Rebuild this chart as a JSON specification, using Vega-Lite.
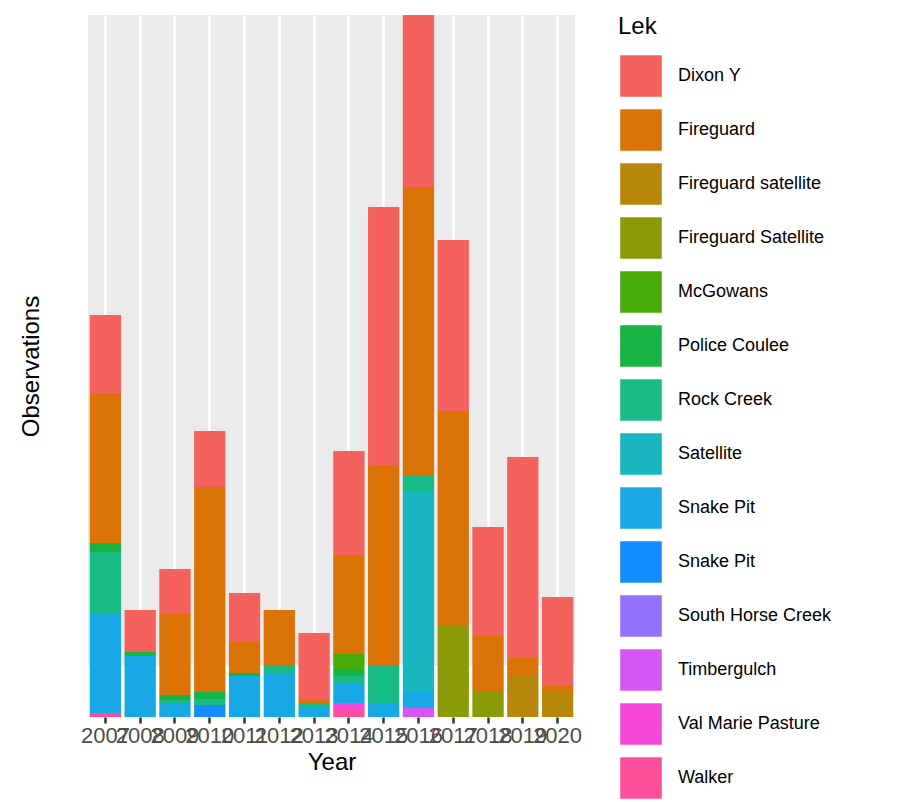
{
  "$schema": "https://vega.github.io/schema/vega-lite/v6.json",
  "width": 487,
  "height": 702,
  "autosize": {"type": "none"},
  "padding": {"left": 88, "top": 15, "right": 333, "bottom": 85},
  "data": {
    "values": [
      {"Year": "2007", "Lek": "Walker", "n": 4},
      {"Year": "2007", "Lek": "Snake Pit", "n": 99},
      {"Year": "2007", "Lek": "Rock Creek", "n": 62},
      {"Year": "2007", "Lek": "Police Coulee", "n": 9},
      {"Year": "2007", "Lek": "Fireguard", "n": 150},
      {"Year": "2007", "Lek": "Dixon Y", "n": 78},
      {"Year": "2008", "Lek": "Snake Pit", "n": 61},
      {"Year": "2008", "Lek": "Police Coulee", "n": 4},
      {"Year": "2008", "Lek": "Dixon Y", "n": 42},
      {"Year": "2009", "Lek": "Snake Pit", "n": 14},
      {"Year": "2009", "Lek": "Rock Creek", "n": 3},
      {"Year": "2009", "Lek": "Police Coulee", "n": 5},
      {"Year": "2009", "Lek": "Fireguard", "n": 81},
      {"Year": "2009", "Lek": "Dixon Y", "n": 45},
      {"Year": "2010", "Lek": "Snake Pit ", "n": 12},
      {"Year": "2010", "Lek": "Rock Creek", "n": 6},
      {"Year": "2010", "Lek": "Police Coulee", "n": 7},
      {"Year": "2010", "Lek": "Fireguard", "n": 205},
      {"Year": "2010", "Lek": "Dixon Y", "n": 56},
      {"Year": "2011", "Lek": "Snake Pit", "n": 41},
      {"Year": "2011", "Lek": "Police Coulee", "n": 3},
      {"Year": "2011", "Lek": "Fireguard", "n": 31},
      {"Year": "2011", "Lek": "Dixon Y", "n": 49},
      {"Year": "2012", "Lek": "Snake Pit", "n": 44},
      {"Year": "2012", "Lek": "Rock Creek", "n": 8},
      {"Year": "2012", "Lek": "Fireguard", "n": 55},
      {"Year": "2013", "Lek": "Snake Pit", "n": 10},
      {"Year": "2013", "Lek": "Rock Creek", "n": 4},
      {"Year": "2013", "Lek": "Fireguard", "n": 3},
      {"Year": "2013", "Lek": "Dixon Y", "n": 67},
      {"Year": "2014", "Lek": "Walker", "n": 7},
      {"Year": "2014", "Lek": "Val Marie Pasture", "n": 7},
      {"Year": "2014", "Lek": "Snake Pit", "n": 19},
      {"Year": "2014", "Lek": "Rock Creek", "n": 8},
      {"Year": "2014", "Lek": "Police Coulee", "n": 7},
      {"Year": "2014", "Lek": "McGowans", "n": 15},
      {"Year": "2014", "Lek": "Fireguard", "n": 99},
      {"Year": "2014", "Lek": "Dixon Y", "n": 104},
      {"Year": "2015", "Lek": "Snake Pit", "n": 14},
      {"Year": "2015", "Lek": "Rock Creek", "n": 38},
      {"Year": "2015", "Lek": "Fireguard", "n": 200},
      {"Year": "2015", "Lek": "Dixon Y", "n": 258},
      {"Year": "2016", "Lek": "Timbergulch", "n": 9},
      {"Year": "2016", "Lek": "Snake Pit", "n": 16},
      {"Year": "2016", "Lek": "Satellite", "n": 201},
      {"Year": "2016", "Lek": "Rock Creek", "n": 15},
      {"Year": "2016", "Lek": "Fireguard", "n": 289},
      {"Year": "2016", "Lek": "Dixon Y", "n": 172},
      {"Year": "2017", "Lek": "Fireguard Satellite", "n": 92},
      {"Year": "2017", "Lek": "Fireguard", "n": 214},
      {"Year": "2017", "Lek": "Dixon Y", "n": 171},
      {"Year": "2018", "Lek": "Fireguard Satellite", "n": 25},
      {"Year": "2018", "Lek": "Fireguard", "n": 56},
      {"Year": "2018", "Lek": "Dixon Y", "n": 109},
      {"Year": "2019", "Lek": "Fireguard satellite", "n": 42},
      {"Year": "2019", "Lek": "Fireguard", "n": 17},
      {"Year": "2019", "Lek": "Dixon Y", "n": 201},
      {"Year": "2020", "Lek": "Fireguard satellite", "n": 25},
      {"Year": "2020", "Lek": "Fireguard", "n": 6},
      {"Year": "2020", "Lek": "Dixon Y", "n": 89}
    ]
  },
  "layer": [
    {
      "mark": {"type": "rect", "fill": "white"},
      "encoding": {
        "y": {"datum": 0, "type": "quantitative"},
        "y2": {"datum": 52}
      }
    },
    {
      "mark": {"type": "bar"},
      "encoding": {
        "x": {
          "field": "Year", "type": "ordinal", "title": "Year",
          "scale": {"paddingInner": 0.1, "paddingOuter": 0.05},
          "axis": {
            "labelAngle": 0, "labelFontSize": 22, "labelColor": "#4D4D4D", "labelOverlap": false,
            "labelFont": "Liberation Sans", "titleFont": "Liberation Sans", "titleFontSize": 24,
            "titleFontWeight": "normal", "titleColor": "black", "domain": false,
            "tickColor": "#333333", "tickSize": 6, "tickWidth": 2.5, "labelBound": false,
            "grid": true, "gridColor": "white", "gridWidth": 2.5
          }
        },
        "y": {
          "field": "n", "type": "quantitative", "title": "Observations",
          "scale": {"domain": [0, 702], "nice": false},
          "axis": {
            "labels": false, "ticks": false, "grid": false, "domain": false,
            "titleFont": "Liberation Sans", "titleFontSize": 24, "titleFontWeight": "normal",
            "titleColor": "black", "titlePadding": 45
          }
        },
        "color": {
          "field": "Lek", "type": "nominal",
          "scale": {
            "domain": ["Dixon Y", "Fireguard", "Fireguard satellite", "Fireguard Satellite", "McGowans", "Police Coulee", "Rock Creek", "Satellite", "Snake Pit", "Snake Pit ", "South Horse Creek", "Timbergulch", "Val Marie Pasture", "Walker"],
            "range": ["#F5615C", "#DB7306", "#B8860B", "#8B9A08", "#48AB0A", "#17B443", "#18BB86", "#18B6BE", "#18A8E6", "#138CFF", "#9571FF", "#D555F5", "#F648D8", "#FD4F9C"]
          },
          "legend": {
            "title": "Lek", "titleFontSize": 24, "titleFontWeight": "normal", "titleFont": "Liberation Sans",
            "titleColor": "black", "titlePadding": 14,
            "labelFontSize": 18, "labelFont": "Liberation Sans", "labelColor": "black",
            "symbolType": "square", "symbolSize": 1900, "symbolStrokeColor": "white", "symbolStrokeWidth": 2,
            "symbolOpacity": 1, "rowPadding": 2, "labelOffset": 14, "offset": 43
          }
        },
        "order": {"field": "Lek", "sort": "descending"}
      }
    }
  ],
  "config": {
    "view": {"fill": "#EBEBEB", "stroke": null}
  }
}
